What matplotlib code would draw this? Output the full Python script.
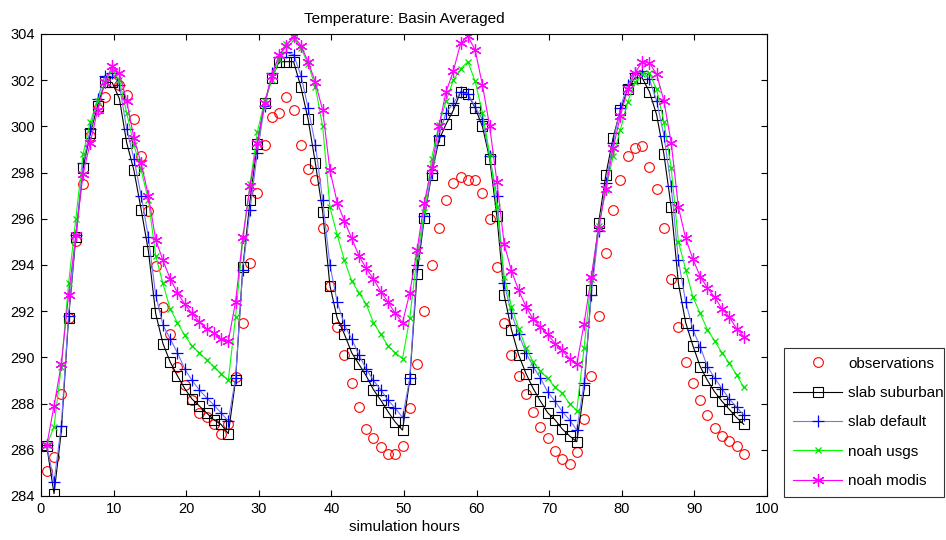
import numpy as np
import matplotlib
matplotlib.use("Agg")
import matplotlib.pyplot as plt

plt.rcParams["font.family"] = ["Liberation Sans", "DejaVu Sans"]

# simulation hours (one value per hour)
hours = np.arange(97) + 0.8

observations = [
    285.1, 285.7, 288.4, 291.7, 295.05, 297.5, 299.6, 300.75, 301.25, 301.9,
    301.8, 301.35, 300.3, 298.7, 296.35, 293.95, 292.2, 291.0, 289.6, 288.8,
    288.15, 287.6, 287.4, 287.1, 286.7, 287.1, 289.15, 291.5, 294.1, 297.1,
    299.2, 300.4, 300.6, 301.25, 300.7, 299.2, 298.15, 297.7, 295.6, 293.1,
    291.3, 290.1, 288.9, 287.85, 286.9, 286.5, 286.1, 285.8, 285.8, 286.15,
    287.8, 289.7, 292.0, 294.0, 295.6, 296.8, 297.55, 297.8, 297.7, 297.7,
    297.1, 296.0, 293.9, 291.5, 290.1, 289.2, 288.4, 287.65, 287.0, 286.5,
    285.95, 285.6, 285.4, 285.9, 287.35, 289.2, 291.8, 294.5, 296.4, 297.7,
    298.7, 299.05, 299.15, 298.25, 297.3, 295.6, 293.4, 291.3, 289.8, 288.9,
    288.15, 287.5, 286.95, 286.6, 286.4, 286.15, 285.8,
]

slab_suburban = [
    286.16, 284.1, 286.8, 291.7, 295.2, 298.2, 299.7, 300.9, 301.9, 301.9,
    301.2, 299.3, 298.1, 296.4, 294.6, 291.9, 290.6, 289.8, 289.2, 288.65,
    288.2, 287.9, 287.6, 287.3, 287.1, 286.7, 289.0, 293.9, 296.8, 299.25,
    301.0, 302.1, 302.8, 302.8, 302.8, 301.7, 300.3, 298.4, 296.3, 293.1,
    291.7, 291.0, 290.2, 289.7, 289.2, 288.6, 288.15, 287.65, 287.2, 286.85,
    289.05, 293.6, 296.05, 297.9, 299.4, 300.1, 300.7, 301.5, 301.4, 300.8,
    300.0, 298.6, 296.1, 292.7, 291.2, 290.1, 289.3, 288.65, 288.1, 287.6,
    287.3, 286.9, 286.6, 286.35, 288.6, 292.9, 295.8, 297.9, 299.5, 300.7,
    301.6, 302.1, 302.1, 301.5, 300.5, 298.8, 296.5, 293.2, 291.5, 290.5,
    289.6, 289.0, 288.5, 288.1, 287.75, 287.4, 287.1,
]

slab_default = [
    286.2, 284.6, 287.05, 291.8, 295.3, 298.4, 299.9, 301.2, 302.2, 302.3,
    301.8, 299.9, 298.6, 297.0, 295.2, 292.7, 291.4, 290.8, 290.2, 289.5,
    289.0, 288.6, 288.25, 287.95, 287.6, 287.25, 289.1, 293.8, 296.4, 298.85,
    300.9, 302.3, 303.0, 303.2, 303.1, 302.2, 300.8, 299.2, 296.8, 294.0,
    292.4, 291.4, 290.8, 290.1, 289.5, 289.0, 288.6, 288.15, 287.8, 287.4,
    289.1, 294.0, 296.1, 298.0, 299.6, 300.6, 301.0, 301.5, 301.4, 300.85,
    300.3, 298.7, 297.0, 293.2, 291.9, 291.0, 290.2, 289.6, 289.1, 288.5,
    288.1, 287.65, 287.3, 286.85, 288.9, 292.7, 295.45, 297.55, 299.3, 300.8,
    301.8, 302.3, 302.4, 302.05, 301.1, 299.6, 297.4, 294.2, 292.4, 291.2,
    290.45, 289.6, 289.1, 288.65, 288.2, 287.85, 287.5,
]

noah_usgs = [
    286.2, 287.0, 289.6, 293.2, 296.0, 298.8, 300.2, 301.1, 301.9, 302.45,
    302.0, 300.6, 299.2, 298.1, 296.8, 294.4, 293.2, 292.1, 291.5, 290.95,
    290.5, 290.2, 289.9, 289.6, 289.3, 289.0, 291.75, 295.1, 297.5, 299.75,
    301.1, 302.0, 302.9, 303.55, 303.8, 303.4, 302.7, 301.7, 300.0, 296.5,
    295.3, 294.2, 293.3, 292.8, 292.3, 291.5, 291.0, 290.5, 290.2, 289.95,
    291.7, 294.4, 296.3, 298.6, 300.05, 301.1, 302.0, 302.5, 302.8, 301.95,
    300.6, 298.8, 296.5, 293.5, 292.2, 291.25, 290.4, 289.8, 289.4, 289.1,
    288.7, 288.45, 288.0, 287.7, 290.4, 293.4, 295.7, 297.25, 298.7, 299.85,
    301.05, 301.9, 302.25, 302.3, 301.6, 300.2, 298.2, 295.0, 293.8, 292.6,
    291.9, 291.2, 290.7, 290.2, 289.75, 289.25, 288.7,
]

noah_modis = [
    286.2, 287.9, 289.7, 292.7, 295.3, 297.95, 299.3, 300.7, 301.9, 302.6,
    302.3, 301.1, 299.5, 298.4, 297.0, 295.1, 294.2, 293.4, 292.8, 292.3,
    291.9, 291.55, 291.25, 291.05, 290.8, 290.7, 292.4, 295.2, 297.4, 299.3,
    301.0, 302.2, 303.1, 303.5, 303.9, 303.5, 302.8, 301.9, 300.7, 298.1,
    296.7, 295.9, 295.15, 294.4, 293.85, 293.4, 292.85, 292.4, 291.9, 291.5,
    292.8, 294.65, 296.7, 298.2, 300.0, 301.5, 302.4, 303.6, 303.9, 303.3,
    301.8, 300.0, 297.6, 294.9, 293.75, 292.9, 292.2, 291.65, 291.3, 291.0,
    290.6, 290.3, 289.95, 289.7, 291.45, 293.5, 295.6, 297.3, 299.05, 300.45,
    301.6, 302.3, 302.8, 302.75, 302.25, 301.1, 299.3, 296.5, 295.15, 294.25,
    293.5, 293.0, 292.6, 292.1, 291.75, 291.25, 290.9,
]

fig = plt.figure(figsize=(9.46, 5.4), dpi=100)
ax = fig.add_axes([0.0433, 0.0815, 0.7675, 0.8556])

ax.plot(hours, observations, linestyle="none", marker="o", markersize=7,
        markerfacecolor="none", markeredgecolor="red", markeredgewidth=0.8,
        label="observations")
ax.plot(hours, slab_suburban, color="black", linewidth=0.8, marker="s",
        markersize=6.8, markerfacecolor="none", markeredgecolor="black",
        markeredgewidth=0.8, label="slab suburban")
ax.plot(hours, slab_default, color=(0.45, 0.45, 1.0), linewidth=0.8, marker="+",
        markersize=9, markeredgecolor="blue", markeredgewidth=0.9,
        label="slab default")
ax.plot(hours, noah_usgs, color="#00ff00", linewidth=0.8, marker="x",
        markersize=4, markeredgecolor="#00dd00", markeredgewidth=0.9,
        label="noah usgs")
# MATLAB-style asterisk: 6 thin arms
ax.plot(hours, noah_modis, color="#ff00ff", linewidth=0.8, marker=(6, 2, 0),
        markersize=9, markeredgecolor="#ff00ff", markeredgewidth=0.9,
        label="noah modis")

ax.set_xlim(0, 100)
ax.set_ylim(284, 304)
ax.set_xticks(np.arange(0, 101, 10))
ax.set_yticks(np.arange(284, 305, 2))
ax.tick_params(direction="in", top=True, right=True, labelsize=10.5,
               length=4, width=0.8, pad=4.5)
for s in ax.spines.values():
    s.set_linewidth(0.8)

ax.set_title("Temperature: Basin Averaged", fontsize=11, pad=8)
ax.set_xlabel("simulation hours", fontsize=11, labelpad=3)

leg = fig.legend(loc="lower left", bbox_to_anchor=(0.829, 0.0796, 0.169, 0.28),
                 mode="expand", fontsize=11, frameon=True, fancybox=False,
                 edgecolor="black", handlelength=3.2, handletextpad=0.4,
                 borderaxespad=0, labelspacing=1.0, borderpad=0.6)
leg.get_frame().set_linewidth(0.8)

fig.savefig("out.png", dpi=100)
